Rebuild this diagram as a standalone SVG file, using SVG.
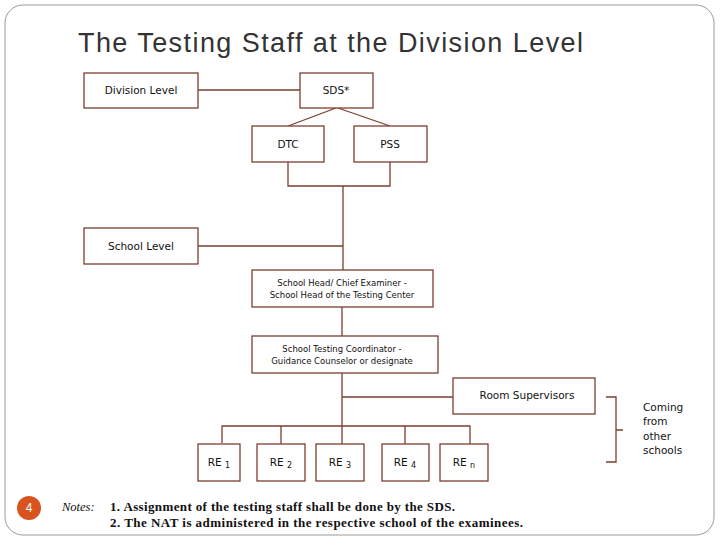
<svg xmlns="http://www.w3.org/2000/svg" width="720" height="540" viewBox="0 0 720 540">
<style>
.b{fill:#fff;stroke:#7a3f30;stroke-width:1.3}
.c{fill:none;stroke:#7a3f30;stroke-width:1.3}
.t{font-family:"DejaVu Sans",Verdana,sans-serif;font-size:10.5px;fill:#111;text-anchor:middle}
.s{font-family:"DejaVu Sans",Verdana,sans-serif;font-size:8.5px;fill:#111;text-anchor:middle}
.n{font-family:"Liberation Serif","Times New Roman",serif;font-size:13px;font-weight:bold;fill:#111}
</style>
<rect width="720" height="540" fill="#fff"/>
<rect x="5" y="5" width="709" height="530" rx="18" fill="none" stroke="#9a9a9a" stroke-width="1"/>
<text x="78" y="52" font-family="Liberation Sans,Arial,sans-serif" font-size="27" fill="#333" textLength="505" lengthAdjust="spacing">The Testing Staff at the Division Level</text>
<g id="connectors">
<path class="c" d="M198 90H300M336 108L288 126M338 108L390 126M288 162V186H390V162M343 186V270M198 246H343M342 307V336M342 373V426M342 397H453M222 443V426H470V444M281 426V444M342 426V444M405 426V444M606 397H616V462H606M616 430H623"/>
</g>
<g id="division"><rect class="b" x="84" y="73" width="114" height="35"/><text class="t" x="141" y="94">Division Level</text></g>
<g id="sds"><rect class="b" x="300" y="73" width="73" height="35"/><text class="t" x="336" y="94">SDS*</text></g>
<g id="dtc"><rect class="b" x="252" y="126" width="72" height="36"/><text class="t" x="288" y="148">DTC</text></g>
<g id="pss"><rect class="b" x="354" y="126" width="73" height="36"/><text class="t" x="390" y="148">PSS</text></g>
<g id="school"><rect class="b" x="84" y="228" width="114" height="36"/><text class="t" x="141" y="250">School Level</text></g>
<g id="head"><rect class="b" x="252" y="270" width="181" height="37"/><text class="s" x="342" y="286">School Head/ Chief Examiner -</text><text class="s" x="342" y="298">School Head of the Testing Center</text></g>
<g id="coord"><rect class="b" x="252" y="336" width="186" height="37"/><text class="s" x="342" y="352">School Testing Coordinator -</text><text class="s" x="342" y="364">Guidance Counselor or designate</text></g>
<g id="room"><rect class="b" x="453" y="378" width="142" height="36"/><text class="t" x="527" y="399">Room Supervisors</text></g>
<g id="re1"><rect class="b" x="198" y="444" width="42" height="37"/><text class="t" x="219" y="466">RE <tspan font-size="8" dy="2">1</tspan></text></g>
<g id="re2"><rect class="b" x="257" y="444" width="48" height="37"/><text class="t" x="281" y="466">RE <tspan font-size="8" dy="2">2</tspan></text></g>
<g id="re3"><rect class="b" x="316" y="444" width="48" height="37"/><text class="t" x="340" y="466">RE <tspan font-size="8" dy="2">3</tspan></text></g>
<g id="re4"><rect class="b" x="382" y="444" width="47" height="37"/><text class="t" x="405" y="466">RE <tspan font-size="8" dy="2">4</tspan></text></g>
<g id="ren"><rect class="b" x="440" y="444" width="48" height="37"/><text class="t" x="464" y="466">RE <tspan font-size="8" dy="2">n</tspan></text></g>
<g id="coming" font-family="DejaVu Sans,Verdana,sans-serif" font-size="10.5" fill="#111"><text x="643" y="411">Coming</text><text x="643" y="425">from</text><text x="643" y="440">other</text><text x="643" y="454">schools</text></g>
<circle cx="29" cy="508" r="12" fill="#d9531e"/>
<text x="29" y="512" text-anchor="middle" font-family="Liberation Sans,Arial,sans-serif" font-size="12" fill="#fff">4</text>
<text x="62" y="511" font-family="Liberation Serif,serif" font-size="12.5" font-style="italic" fill="#111">Notes:</text>
<text class="n" x="110" y="511" textLength="345" lengthAdjust="spacing">1. Assignment of the testing staff shall be done by the SDS.</text>
<text class="n" x="110" y="527" textLength="413" lengthAdjust="spacing">2. The NAT is administered in the respective school of the examinees.</text>
</svg>
